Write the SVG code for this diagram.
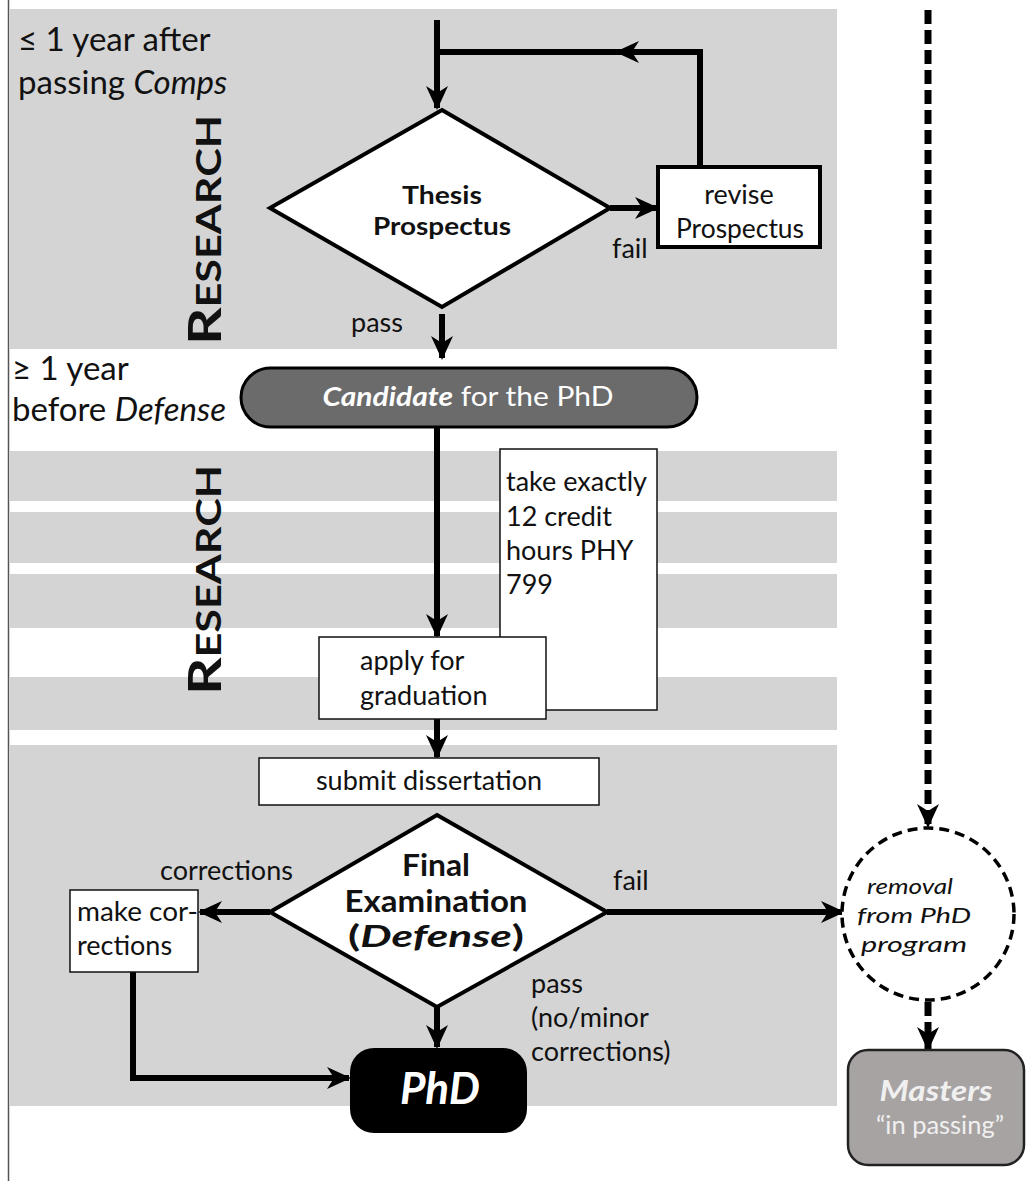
<svg xmlns="http://www.w3.org/2000/svg" width="1030" height="1181" viewBox="0 0 1030 1181">
<style>
text{font-family:Lato,"Open Sans","Liberation Sans",sans-serif;fill:#111}
.lbl{font-size:27px}
.side{font-size:33px}
.big{font-weight:bold}
.box{fill:#fff;stroke:#111;stroke-width:1.5}
.conn{fill:none;stroke:#000;stroke-width:6}
.dash{fill:none;stroke:#000;stroke-width:7;stroke-dasharray:14 6}
.band{fill:#d4d4d4}
.vt{font-weight:bold;font-size:34px}
.rm{font-size:22px;font-style:italic}
</style>
<defs>
<marker id="ah" viewBox="0 0 24 24" refX="22" refY="12" markerWidth="24" markerHeight="24" markerUnits="userSpaceOnUse" orient="auto">
<path d="M0,1 L24,12 L0,23 L7,12 z" fill="#000"/>
</marker>
</defs>
<rect width="1030" height="1181" fill="#fff"/>
<line x1="8.5" y1="0" x2="8.5" y2="1181" stroke="#555" stroke-width="1.5"/>
<g id="bands">
<rect class="band" x="9" y="9" width="828" height="340"/>
<rect class="band" x="9" y="451" width="828" height="50"/>
<rect class="band" x="9" y="512" width="828" height="51"/>
<rect class="band" x="9" y="574" width="828" height="54"/>
<rect class="band" x="9" y="677" width="828" height="53"/>
<rect class="band" x="9" y="745" width="828" height="361"/>
</g>
<g id="side-labels">
<text class="side" x="18" y="51">≤ 1 year after</text>
<text class="side" x="18" y="94">passing <tspan font-style="italic">Comps</tspan></text>
<text class="side" x="12" y="380">≥ 1 year</text>
<text class="side" x="12" y="421">before <tspan font-style="italic">Defense</tspan></text>
<text class="vt" transform="translate(221,345) rotate(-90)" textLength="230" lengthAdjust="spacingAndGlyphs"><tspan font-size="46">R</tspan>ESEARCH</text>
<text class="vt" transform="translate(221,695) rotate(-90)" textLength="230" lengthAdjust="spacingAndGlyphs"><tspan font-size="46">R</tspan>ESEARCH</text>
</g>
<g id="connectors">
<path class="conn" d="M437,20 V108" marker-end="url(#ah)"/>
<path class="conn" d="M700,166 V52 H617" marker-end="url(#ah)"/>
<path class="conn" d="M640,52 H434"/>
<path class="conn" d="M610,208 H657" marker-end="url(#ah)"/>
<path class="conn" d="M442,314 V358" marker-end="url(#ah)"/>
<path class="conn" d="M437,427 V636" marker-end="url(#ah)"/>
<path class="conn" d="M437,719 V757" marker-end="url(#ah)"/>
<path class="conn" d="M270,912 H200" marker-end="url(#ah)"/>
<path class="conn" d="M133,972 V1078 H349" marker-end="url(#ah)"/>
<path class="conn" d="M437,1007 V1047" marker-end="url(#ah)"/>
<path class="conn" d="M607,912 H843" marker-end="url(#ah)"/>
<path class="dash" d="M928,10 V826" marker-end="url(#ah)"/>
<path class="dash" d="M928,1002 V1049" marker-end="url(#ah)"/>
<text class="lbl" x="612" y="258">fail</text>
<text class="lbl" x="351" y="332">pass</text>
<text class="lbl" x="160" y="880">corrections</text>
<text class="lbl" x="613" y="890">fail</text>
<text class="lbl" x="531" y="993">pass</text>
<text class="lbl" x="531" y="1027">(no/minor</text>
<text class="lbl" x="531" y="1061">corrections)</text>
</g>
<g id="thesis-prospectus">
<polygon points="442,110 610,208 442,307 270,208" fill="#fff" stroke="#000" stroke-width="4"/>
<text class="big" x="442" y="204" text-anchor="middle" font-size="25" textLength="80" lengthAdjust="spacingAndGlyphs">Thesis</text>
<text class="big" x="442" y="235" text-anchor="middle" font-size="25" textLength="138" lengthAdjust="spacingAndGlyphs">Prospectus</text>
</g>
<g id="revise-prospectus">
<rect x="658" y="167" width="162" height="80" fill="#fff" stroke="#000" stroke-width="4"/>
<text class="lbl" x="739" y="204" text-anchor="middle">revise</text>
<text class="lbl" x="740" y="238" text-anchor="middle" textLength="128" lengthAdjust="spacingAndGlyphs">Prospectus</text>
</g>
<g id="candidate">
<rect x="241" y="368" width="456" height="59" rx="29.5" fill="#6b6b6b" stroke="#000" stroke-width="3"/>
<text x="468" y="406" text-anchor="middle" font-size="27" textLength="291" lengthAdjust="spacingAndGlyphs" style="fill:#fff"><tspan font-weight="bold" font-style="italic">Candidate</tspan> for the PhD</text>
</g>
<g id="take-credits">
<rect class="box" x="500" y="449" width="157" height="261"/>
<text class="lbl" x="506" y="491">take exactly</text>
<text class="lbl" x="506" y="526">12 credit</text>
<text class="lbl" x="506" y="560">hours PHY</text>
<text class="lbl" x="506" y="594">799</text>
</g>
<g id="apply-graduation">
<rect class="box" x="319" y="637" width="227" height="82"/>
<text class="lbl" x="360" y="670">apply for</text>
<text class="lbl" x="360" y="705">graduation</text>
</g>
<g id="submit-dissertation">
<rect class="box" x="259" y="758" width="340" height="47"/>
<text class="lbl" x="429" y="790" text-anchor="middle">submit dissertation</text>
</g>
<g id="final-exam">
<polygon points="437,815 607,912 437,1007 270,912" fill="#fff" stroke="#000" stroke-width="4"/>
<text class="big" x="436" y="876" text-anchor="middle" font-size="30" textLength="68" lengthAdjust="spacingAndGlyphs">Final</text>
<text class="big" x="436" y="912" text-anchor="middle" font-size="30" textLength="183" lengthAdjust="spacingAndGlyphs">Examination</text>
<text class="big" x="436" y="947" text-anchor="middle" font-size="30" textLength="176" lengthAdjust="spacingAndGlyphs">(<tspan font-style="italic">Defense</tspan>)</text>
</g>
<g id="make-corrections">
<rect class="box" x="70" y="890" width="128" height="82"/>
<text class="lbl" x="77" y="921" textLength="121" lengthAdjust="spacingAndGlyphs">make cor-</text>
<text class="lbl" x="77" y="955">rections</text>
</g>
<g id="phd">
<rect x="350" y="1048" width="177" height="85" rx="24" fill="#000"/>
<text x="440" y="1104" text-anchor="middle" font-size="44" font-weight="bold" font-style="italic" style="fill:#fff">PhD</text>
</g>
<g id="removal">
<circle cx="928" cy="914" r="86" fill="#fff" stroke="#000" stroke-width="3.5" stroke-dasharray="10 6"/>
<text class="rm" x="910" y="894" text-anchor="middle" textLength="86" lengthAdjust="spacingAndGlyphs">removal</text>
<text class="rm" x="914" y="923" text-anchor="middle" textLength="114" lengthAdjust="spacingAndGlyphs">from PhD</text>
<text class="rm" x="914" y="952" text-anchor="middle" textLength="106" lengthAdjust="spacingAndGlyphs">program</text>
</g>
<g id="masters">
<rect x="848" y="1050" width="176" height="115" rx="20" fill="#a7a3a3" stroke="#222" stroke-width="2.5"/>
<text x="936" y="1101" text-anchor="middle" font-size="28" font-weight="bold" font-style="italic" textLength="113" lengthAdjust="spacingAndGlyphs" style="fill:#f0f0f0">Masters</text>
<text x="940" y="1134" text-anchor="middle" font-size="25" textLength="128" lengthAdjust="spacingAndGlyphs" style="fill:#f0f0f0">“in passing”</text>
</g>
</svg>
